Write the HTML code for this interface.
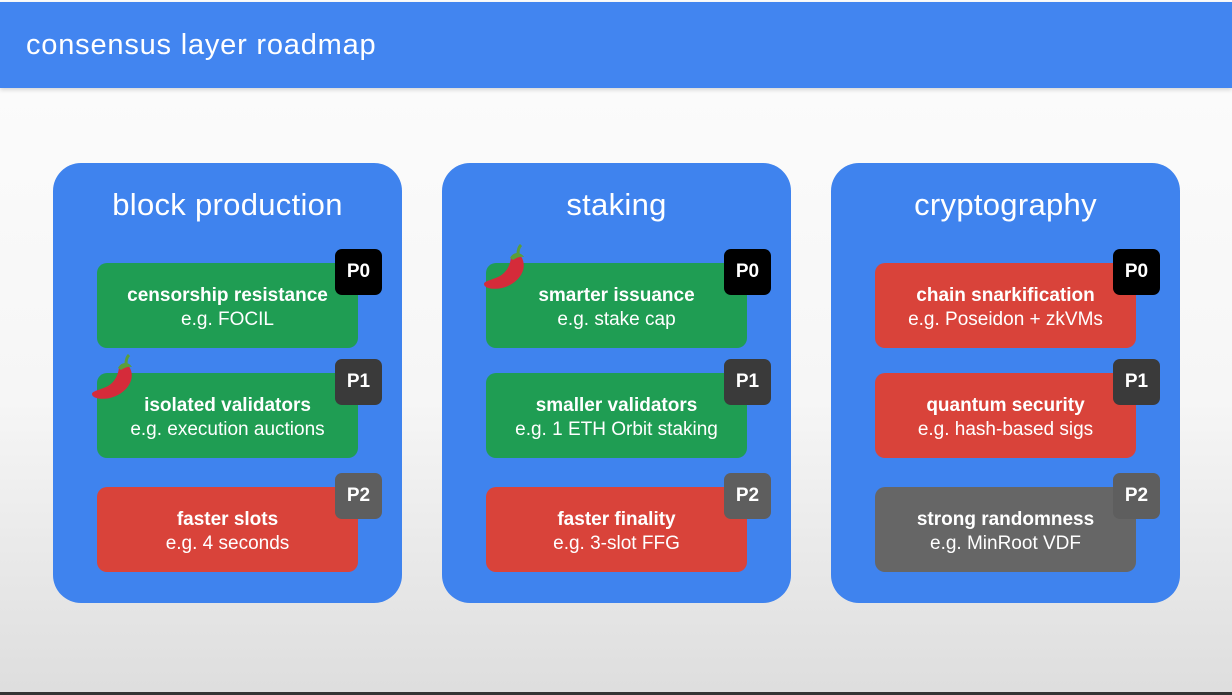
<!DOCTYPE html>
<html><head><meta charset="utf-8"><style>
*{margin:0;padding:0;box-sizing:border-box}
body{width:1232px;height:695px;overflow:hidden;position:relative;font-family:"Liberation Sans",sans-serif;background:linear-gradient(#fbfbfb 90px,#f6f6f6 400px,#dedede 690px)}
.hdr{position:absolute;left:0;top:2px;width:1232px;height:86px;background:#4285f0;box-shadow:0 2px 4px rgba(0,0,0,.15)}
.hdr span{position:absolute;left:26px;top:27px;color:#fff;font-size:29px;letter-spacing:.8px}
.bot{position:absolute;left:0;top:692px;width:1232px;height:3px;background:#333}
.panel{position:absolute;top:163px;width:349px;height:440px;background:#3f83ee;border-radius:28px}
.panel h2{position:absolute;top:24px;left:0;width:100%;text-align:center;color:#fff;font-weight:normal;font-size:31px;letter-spacing:.3px}
.box{position:absolute;left:44px;width:261px;height:85px;border-radius:10px;color:#fff;text-align:center;font-size:19px}
.box b{display:block;margin-top:22px;line-height:22px}
.box i{display:block;font-style:normal;line-height:26px}
.g{background:#1f9d53}.r{background:#d9433a}.k{background:#666}
.badge{position:absolute;left:282px;width:47px;height:46px;border-radius:7px;color:#fff;font-weight:bold;font-size:19px;text-align:center;line-height:46px}
.p0{background:#000}.p1{background:#3a3a3a}.p2{background:#5e5e5e}
.chili{position:absolute;width:48px;height:48px}
</style></head><body>
<div class="hdr"><span>consensus layer roadmap</span></div>

<div class="panel" style="left:53px">
<h2>block production</h2>
<div class="box g" style="top:100px"><b>censorship resistance</b><i>e.g. FOCIL</i></div>
<div class="badge p0" style="top:86px">P0</div>
<div class="box g" style="top:210px"><b>isolated validators</b><i>e.g. execution auctions</i></div>
<div class="badge p1" style="top:196px">P1</div>
<div class="box r" style="top:324px"><b>faster slots</b><i>e.g. 4 seconds</i></div>
<div class="badge p2" style="top:310px">P2</div>
</div>

<div class="panel" style="left:442px">
<h2>staking</h2>
<div class="box g" style="top:100px"><b>smarter issuance</b><i>e.g. stake cap</i></div>
<div class="badge p0" style="top:86px">P0</div>
<div class="box g" style="top:210px"><b>smaller validators</b><i>e.g. 1 ETH Orbit staking</i></div>
<div class="badge p1" style="top:196px">P1</div>
<div class="box r" style="top:324px"><b>faster finality</b><i>e.g. 3-slot FFG</i></div>
<div class="badge p2" style="top:310px">P2</div>
</div>

<div class="panel" style="left:831px">
<h2>cryptography</h2>
<div class="box r" style="top:100px"><b>chain snarkification</b><i>e.g. Poseidon + zkVMs</i></div>
<div class="badge p0" style="top:86px">P0</div>
<div class="box r" style="top:210px"><b>quantum security</b><i>e.g. hash-based sigs</i></div>
<div class="badge p1" style="top:196px">P1</div>
<div class="box k" style="top:324px"><b>strong randomness</b><i>e.g. MinRoot VDF</i></div>
<div class="badge p2" style="top:310px">P2</div>
</div>

<svg class="chili" style="left:90px;top:354px" viewBox="0 0 48 48">
<path d="M40 14 C46 26 36 40 20 44 C10 46 2 44 2 40 C2 37 10 36 18 32 C26 27 28 20 29 14 C31 9 37 8 40 14 Z" fill="#d52b3a"/>
<path d="M28 14 C31 8 38 7 42 13 C38 12 34 14 31 16 Z" fill="#5a9e3a"/>
<path d="M36 10 C36 6 37 3 39 1" stroke="#5a9e3a" stroke-width="3" fill="none"/>
</svg>
<svg class="chili" style="left:482px;top:244px" viewBox="0 0 48 48">
<path d="M40 14 C46 26 36 40 20 44 C10 46 2 44 2 40 C2 37 10 36 18 32 C26 27 28 20 29 14 C31 9 37 8 40 14 Z" fill="#d52b3a"/>
<path d="M28 14 C31 8 38 7 42 13 C38 12 34 14 31 16 Z" fill="#5a9e3a"/>
<path d="M36 10 C36 6 37 3 39 1" stroke="#5a9e3a" stroke-width="3" fill="none"/>
</svg>
<div class="bot"></div>
</body></html>
